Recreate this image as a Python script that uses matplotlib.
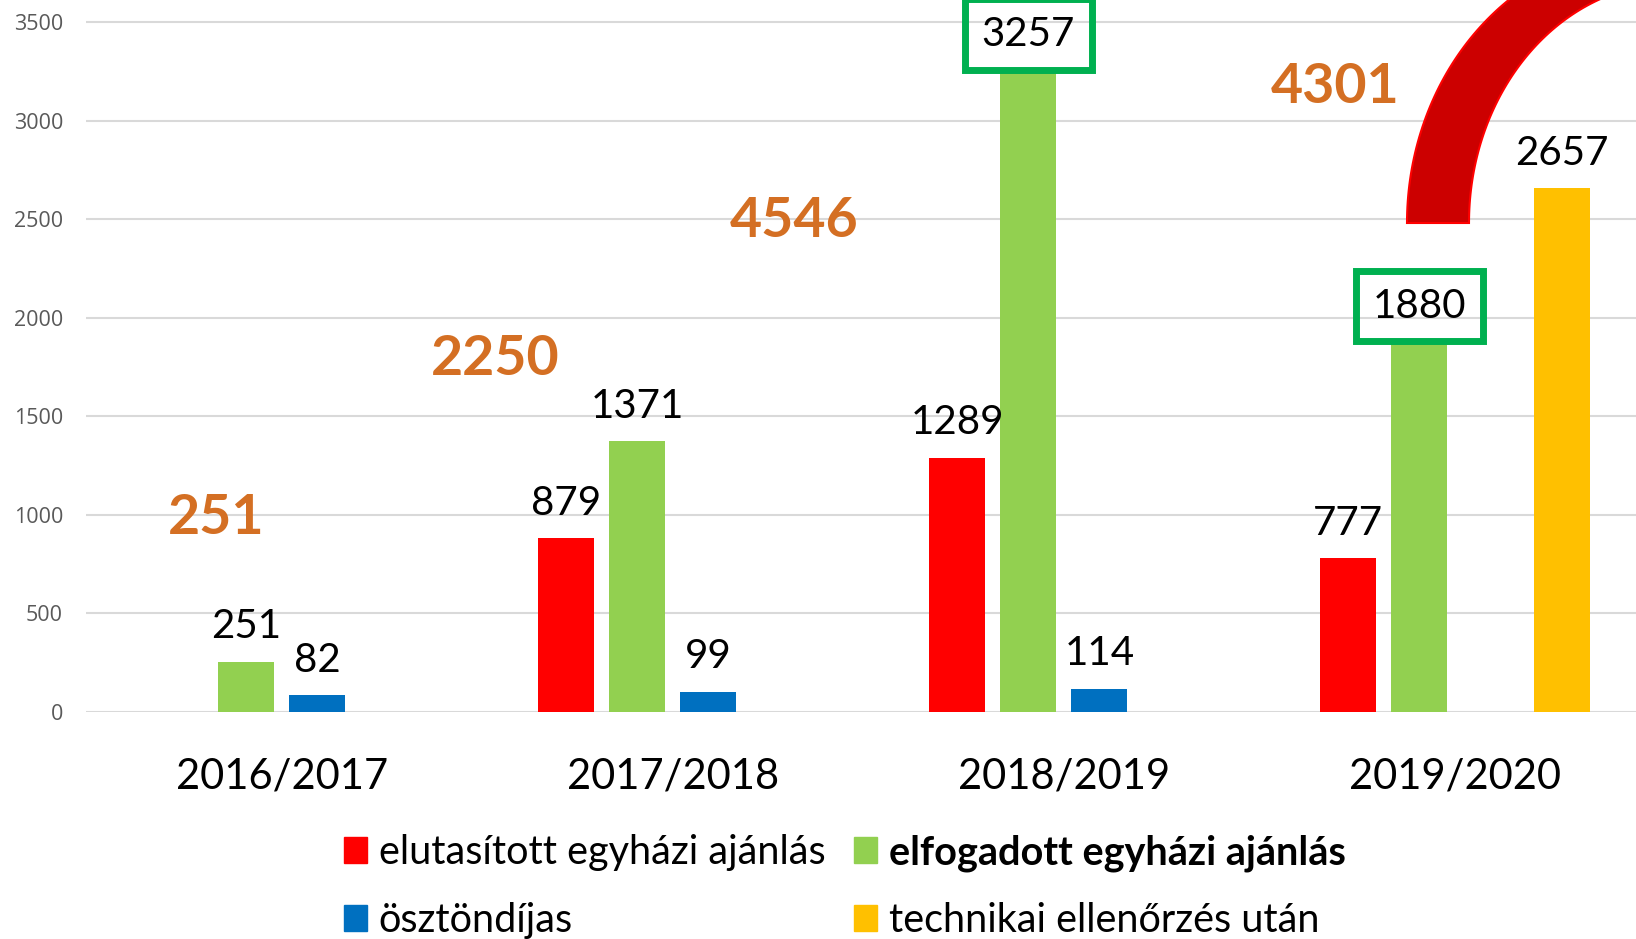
import numpy as np
import matplotlib.pyplot as plt
import matplotlib.transforms as mtransforms
from matplotlib.patches import Polygon, Patch

plt.rcParams['font.family'] = ['Lato', 'DejaVu Sans']

# adatok
years = ['2016/2017', '2017/2018', '2018/2019', '2019/2020']
elutasitott = [0, 879, 1289, 777]
elfogadott = [251, 1371, 3257, 1880]
osztondijas = [82, 99, 114, 0]
technikai = [0, 0, 0, 2657]
totals = [251, 2250, 4546, 4301]
names = ['elutasított egyházi ajánlás', 'elfogadott egyházi ajánlás',
         'ösztöndíjas', 'technikai ellenőrzés után']
colors = ['#FF0000', '#92D050', '#0070C0', '#FFC000']
boxed = [(1, 2), (1, 3)]  # (sorozat, év) zöld kerettel

# narancs összegek helye (x kategória egységben, y alapvonal)
total_pos = [(-0.168, 900), (0.547, 1708), (1.311, 2410), (2.693, 3088)]

W, H = 1636, 939
fig = plt.figure(figsize=(W / 100, H / 100), dpi=100)
ax = fig.add_axes([86 / W, (H - 711.5) / H, 1564.5 / W, 711.5 / H])

x = np.arange(len(years))
step, width = 0.182, 0.143
series = [elutasitott, elfogadott, osztondijas, technikai]
for i, (vals, c) in enumerate(zip(series, colors)):
    bars = ax.bar(x + (i - 1.5) * step, vals, width, color=c, zorder=3)
    for j, (rect, v) in enumerate(zip(bars, vals)):
        if v == 0:
            continue
        box = None
        if (i, j) in boxed:
            box = dict(boxstyle='square,pad=0.42', fc='none', ec='#00B050', lw=5)
        ax.annotate(str(v), (rect.get_x() + rect.get_width() / 2, v),
                    xytext=(0, 17), textcoords='offset points',
                    ha='center', va='baseline', fontsize=29, bbox=box,
                    annotation_clip=False, zorder=4)

for t, (px, py) in zip(totals, total_pos):
    ax.text(px, py, str(t), ha='center', va='baseline', fontsize=40,
            fontweight='bold', color='#D46F23', zorder=4)

ax.set_xlim(-0.5, 3.5)
ax.set_ylim(0, 3612)
ax.set_xticks(x, years, fontsize=30)
ax.set_yticks(range(0, 3501, 500))
ax.tick_params(axis='x', length=0, pad=33)
ax.tick_params(axis='y', length=0, pad=16.5, labelsize=15.5, labelcolor='#595959')
for lab in ax.get_yticklabels():
    lab.set_fontfamily(['Open Sans', 'DejaVu Sans'])
ax.yaxis.grid(True, color='#D9D9D9', lw=1.5)
ax.set_axisbelow(True)
for s in ax.spines.values():
    s.set_visible(False)

# piros ív (jobb felső sarok), képpont koordinátákban
px_tr = mtransforms.Affine2D().scale(1 / W, -1 / H).translate(0, 1) + fig.transFigure
t = np.linspace(np.pi, np.pi / 2, 80)
outer = np.column_stack([1652 + 245 * np.cos(t), 223 - 275 * np.sin(t)])
inner = np.column_stack([1674 + 205 * np.cos(t[::-1]), 223 - 240 * np.sin(t[::-1])])
arc = Polygon(np.vstack([outer, inner]), closed=True, fc='#CC0000', ec='#FF0000',
              lw=1.5, transform=px_tr)
fig.add_artist(arc)

# jelmagyarázat
order = [0, 2, 1, 3]
handles = [Patch(color=colors[k]) for k in order]
leg = fig.legend(handles, [names[k] for k in order], ncol=2, frameon=False,
                 loc='upper left', bbox_to_anchor=(344 / W, 1 - 834 / H),
                 borderpad=0, fontsize=28.5, handlelength=0.58, handleheight=0.63,
                 handletextpad=0.3, columnspacing=0.73, labelspacing=0.78,
                 borderaxespad=0)
leg.get_texts()[2].set_fontweight('bold')

fig.savefig('out.png', dpi=100)
